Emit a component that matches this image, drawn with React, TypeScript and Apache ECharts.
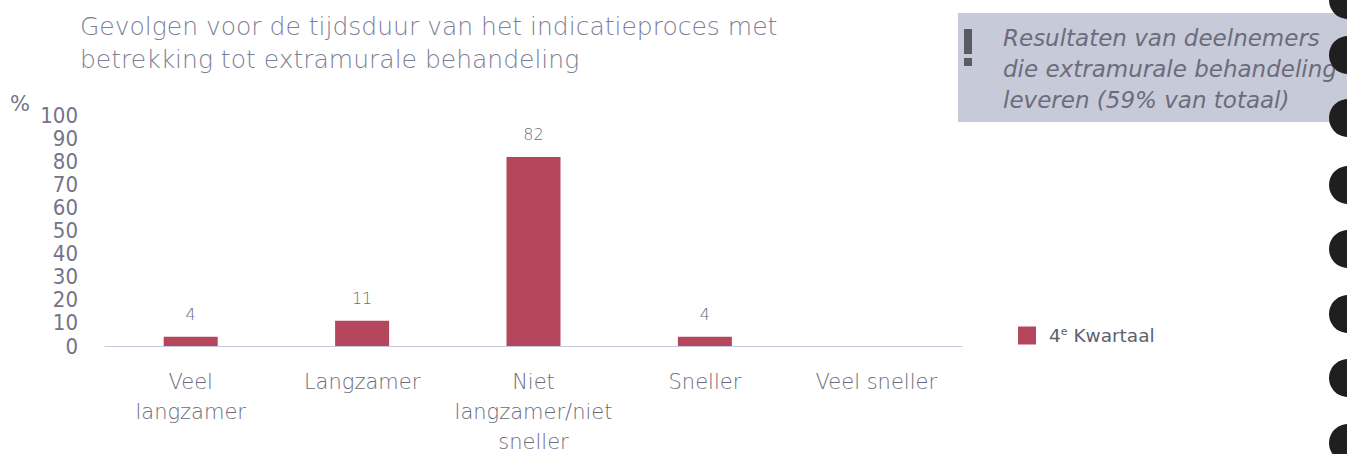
import React, { useEffect, useRef } from "react";
import * as echarts from "echarts";

const categories = ["Veel\nlangzamer", "Langzamer", "Niet\nlangzamer/niet\nsneller", "Sneller", "Veel sneller"];
const values = [4, 11, 82, 4, null];
const seriesName = "4e Kwartaal";
const yTicks = { min: 0, max: 100, interval: 10 };
const titleText = "Gevolgen voor de tijdsduur van het indicatieproces met\nbetrekking tot extramurale behandeling";
const noteLines = ["Resultaten van deelnemers", "die extramurale behandeling", "leveren (59% van totaal)"];
const dotYs = [0, 55, 118, 185, 249, 314, 378, 443];

const BAR = "#b5475d";
const TXT = "#74748a";
const FONT = "'DejaVu Sans', sans-serif";

export default function App() {
  const ref = useRef<HTMLDivElement>(null);
  useEffect(() => {
    const chart = echarts.init(ref.current!, null, { renderer: "svg" });
    const graphics: any[] = [
      {
        type: "rect",
        shape: { x: 958, y: 13, width: 389, height: 109 },
        style: { fill: "#c7cad8" },
        silent: true,
      },
      { type: "rect", shape: { x: 964, y: 29, width: 8, height: 25 }, style: { fill: "#5a5a62" } },
      { type: "rect", shape: { x: 964, y: 58, width: 8, height: 8 }, style: { fill: "#5a5a62" } },
      ...noteLines.map((t, i) => ({
        type: "text",
        x: 1003,
        y: 38 + i * 31,
        style: {
          text: t,
          fill: "#6c6c7c",
          font: `italic 23px ${FONT}`,
          verticalAlign: "middle",
          align: "left",
        },
      })),
      ...dotYs.map((y) => ({
        type: "circle",
        shape: { cx: 1348, cy: y, r: 19 },
        style: { fill: "#1f1f1f" },
      })),
      {
        type: "text",
        x: 10,
        y: 104,
        style: { text: "%", fill: TXT, font: `21px ${FONT}`, verticalAlign: "middle" },
      },
    ];
    chart.setOption({
      animation: false,
      title: {
        text: titleText,
        left: 80,
        top: 10,
        padding: 0,
        textStyle: { color: "#7d8097", fontSize: 25, fontWeight: 200, fontFamily: FONT, lineHeight: 33 },
      },
      legend: {
        data: [seriesName],
        left: 1018,
        top: 326,
        padding: 0,
        itemWidth: 18,
        itemHeight: 18,
        icon: "rect",
        formatter: () => "{n|4}{s|e}{n| Kwartaal}",
        textStyle: {
          padding: [0, 0, 0, 8],
          rich: {
            n: { fontSize: 18.5, color: "#5f5f70", fontFamily: FONT },
            s: { fontSize: 11, color: "#5f5f70", fontFamily: FONT, verticalAlign: "top", padding: [0, 0, 8, 0] },
          },
        },
      },
      grid: { left: 105, right: 385, top: 115.5, bottom: 108, outerBoundsMode: "none" },
      xAxis: {
        type: "category",
        data: categories,
        axisLine: { lineStyle: { color: "#c9c7dc", width: 1 } },
        axisTick: { show: false },
        axisLabel: {
          color: "#6c6c7c",
          fontSize: 21,
          fontFamily: FONT,
          fontWeight: 200,
          lineHeight: 30,
          margin: 21,
          interval: 0,
        },
      },
      yAxis: {
        type: "value",
        min: yTicks.min,
        max: yTicks.max,
        interval: yTicks.interval,
        splitLine: { show: false },
        axisLine: { show: false },
        axisTick: { show: false },
        axisLabel: { color: TXT, fontSize: 22, fontFamily: "'Liberation Sans Narrow', 'DejaVu Sans Condensed', sans-serif", margin: 27 },
      },
      series: [
        {
          name: seriesName,
          type: "bar",
          data: values,
          barWidth: 54,
          itemStyle: { color: BAR },
          label: {
            show: true,
            position: "top",
            distance: 14,
            color: "#6c6c7c",
            fontSize: 16,
            fontFamily: FONT,
            fontWeight: 200,
          },
        },
      ],
      graphic: graphics,
    });
    return () => chart.dispose();
  }, []);
  return <div ref={ref} style={{ width: 1347, height: 454, position: "absolute", left: 0, top: 0 }} />;
}
